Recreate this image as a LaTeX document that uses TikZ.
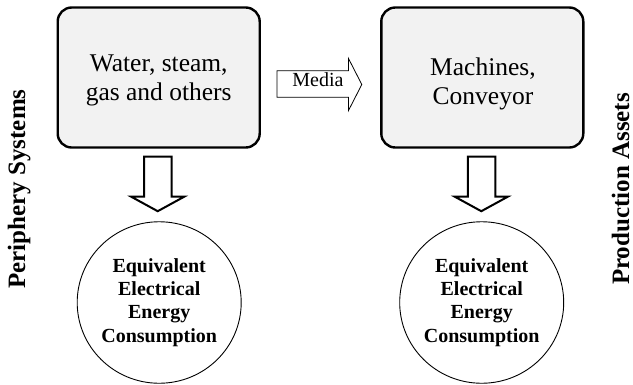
\documentclass[tikz,border=0pt]{standalone}
\usepackage{fontspec}
\setmainfont{Liberation Serif}
\usetikzlibrary{shapes.geometric,calc}

\definecolor{boxgray}{HTML}{F2F2F2}

\begin{document}
\begin{tikzpicture}[x=1pt, y=-1pt,
		assetbox/.style={draw, line width=2.4pt, fill=boxgray, rounded corners=14pt,
			minimum width=202pt, minimum height=140pt},
		boxtext/.style={align=center, inner sep=0pt, font=\fontsize{25.5}{29}\selectfont},
		energy/.style={draw, ellipse, line width=0.9pt, inner sep=0pt,
			minimum width=164pt, minimum height=161.5pt, align=center,
			font=\fontsize{20}{23.3}\selectfont\bfseries},
		sidelabel/.style={rotate=90, anchor=base, inner sep=0pt,
			font=\fontsize{25}{30}\selectfont\bfseries},
		fatarrow/.style={draw, line width=2pt, fill=white, line join=miter}]
		\useasboundingbox (0, 0) rectangle (633, 384);

		% boxes and texts
		\node [assetbox] (water) at (158.7, 77.5) {};
		\node [assetbox] (machines) at (482.3, 77.5) {};
		\node [boxtext] (watertext) at (158.7, 80.5) {Water, steam,\\gas and others};
		\node [boxtext] (machinestext) at (483, 83.6) {Machines,\\Conveyor};

		% consumption circles
		\node [energy] (eqleft) at (159.2, 302.5) {Equivalent\\Electrical\\Energy\\Consumption};
		\node [energy] (eqright) at (481.7, 302.5) {Equivalent\\Electrical\\Energy\\Consumption};

		% media arrow
		\draw [line width=0.8pt, fill=white, line join=miter]
			($(water.east) + (16, -6.8)$) -- ($(machines.west) + (-31.7, -6.8)$)
			-- ($(machines.west) + (-31.7, -19.2)$) -- ($(machines.west) + (-18.3, 7)$)
			-- ($(machines.west) + (-31.7, 33.2)$) -- ($(machines.west) + (-31.7, 19.8)$)
			-- ($(water.east) + (16, 19.8)$) -- cycle;
		\node [anchor=base, inner sep=0pt, font=\fontsize{20}{24}\selectfont] (media)
			at (318, 86.7) {Media};

		% down arrows
		\foreach \a/\b in {water/eqleft, machines/eqright} {
			\draw [fatarrow] ($(\a.south) + (-14.5, 8)$) -- ($(\a.south) + (-14.5, 48)$)
				-- ($(\a.south) + (-27.5, 48)$) -- ($(\a.south) + (-1, 62.5)$)
				-- ($(\a.south) + (25.5, 48)$) -- ($(\a.south) + (13, 48)$)
				-- ($(\a.south) + (13, 8)$) -- cycle;
		}

		% side labels
		\node [sidelabel] (periphery) at (25, 189) {Periphery Systems};
		\node [sidelabel] (production) at (629, 189) {Production Assets};
	\end{tikzpicture}
\end{document}
